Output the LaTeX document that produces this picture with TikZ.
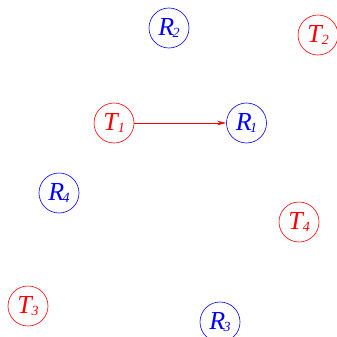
\documentclass[tikz,border=0pt]{standalone}
\usepackage{fontspec}
\setmainfont{Liberation Serif}
\usetikzlibrary{arrows.meta}
\newcommand{\sublbl}[2]{\textit{#1}\kern-1.5pt\raisebox{-0.1ex}{\fontsize{14}{14}\selectfont\textit{#2}}}

\begin{document}
\begin{tikzpicture}[
    x=1pt, y=-1pt,
    stn/.style={circle, draw=#1, text=#1, minimum size=40pt, inner sep=0pt,
      line width=0.6pt, font=\fontsize{26}{26}\selectfont},
    tx/.style={stn=red},
    rx/.style={stn=blue},
    link/.style={-{Stealth[length=9pt, width=4.5pt]}, red, line width=0.6pt}
  ]
  \useasboundingbox (0,0) rectangle (337,337);

  \node[rx] (r2) at (169, 28) {\sublbl{R}{2}};
  \node[tx] (t2) at (318, 35) {\sublbl{T}{2}};
  \node[tx] (t1) at (114, 123) {\sublbl{T}{1}};
  \node[rx] (r1) at (246.5, 123) {\sublbl{R}{1}};
  \node[rx] (r4) at (59, 193) {\sublbl{R}{4}};
  \node[tx] (t4) at (299, 222) {\sublbl{T}{4}};
  \node[tx] (t3) at (28, 306) {\sublbl{T}{3}};
  \node[rx] (r3) at (220, 322) {\sublbl{R}{3}};

  \draw[link] (t1) -- (r1);
\end{tikzpicture}
\end{document}
